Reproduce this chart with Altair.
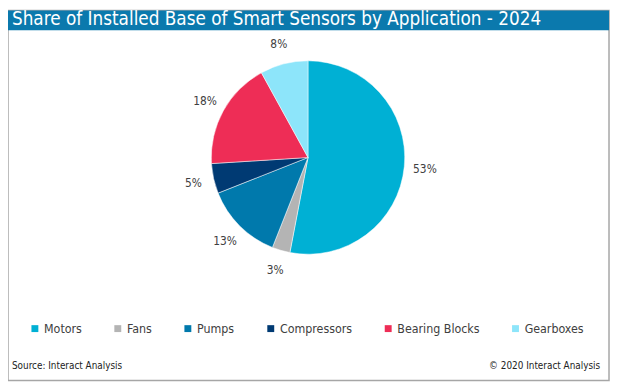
import altair as alt
import pandas as pd

apps = ["Motors", "Fans", "Pumps", "Compressors", "Bearing Blocks", "Gearboxes"]
shares = [53, 3, 13, 5, 18, 8]
colors = ["#00B0D4", "#B4B4B4", "#0079AC", "#003A73", "#EE2D56", "#8DE5FA"]
title_text = "Share of Installed Base of Smart Sensors by Application - 2024"
source_text = "Source: Interact Analysis"
copyright_text = "\u00a9 2020 Interact Analysis"

df = pd.DataFrame({
    "app": apps,
    "share": shares,
    "order": list(range(len(apps))),
    "label": [f"{s}%" for s in shares],
})
one = pd.DataFrame({"a": [0]})

W, H = 610, 376
CX, CY = 304, 149
FONT = "DejaVu Sans Condensed"

color_scale = alt.Scale(domain=apps, range=colors)

border = alt.Chart(one).mark_rect(fill="white", stroke="#A6A6A6", strokeWidth=1.5).encode(
    x=alt.value(0), x2=alt.value(W - 1), y=alt.value(0), y2=alt.value(H - 1)
)
bar = alt.Chart(one).mark_rect(fill="#0B79AD").encode(
    x=alt.value(0), x2=alt.value(W - 1), y=alt.value(0), y2=alt.value(20)
)
title = alt.Chart(one).mark_text(
    text=title_text, font=FONT, fontSize=19, color="white", align="left", baseline="alphabetic"
).encode(x=alt.value(4), y=alt.value(15))

base = alt.Chart(df).encode(
    theta=alt.Theta("share:Q", stack=True),
    order=alt.Order("order:Q"),
)
pie = base.mark_arc(outerRadius=98, stroke="white", strokeWidth=0.5).encode(
    color=alt.Color(
        "app:N", scale=color_scale, sort=apps,
        legend=alt.Legend(
            title=None, orient="none", direction="horizontal",
            legendX=21, legendY=316, symbolType="square", symbolSize=49,
            symbolStrokeWidth=0, labelFont=FONT, labelFontSize=12.5, labelColor="#404040",
            columnPadding=30, symbolOffset=0, labelOffset=3,
        ),
    ),
    x=alt.value(CX), y=alt.value(CY),
)
labels = base.mark_text(radius=119, font=FONT, fontSize=12, color="#404040").encode(
    text="label:N", x=alt.value(CX), y=alt.value(CY)
)
src = alt.Chart(one).mark_text(
    text=source_text, font=FONT, fontSize=10, color="#222222", align="left", baseline="middle"
).encode(x=alt.value(4), y=alt.value(360))
cr = alt.Chart(one).mark_text(
    text=copyright_text, font=FONT, fontSize=10, color="#222222", align="right", baseline="middle"
).encode(x=alt.value(600), y=alt.value(360))

chart = alt.layer(border, bar, title, pie, labels, src, cr).properties(
    width=W, height=H, padding=0, autosize=alt.AutoSizeParams(type="none")
).configure_view(stroke=None)

chart.save("out.html", embed_options={"renderer": "svg", "actions": False})
